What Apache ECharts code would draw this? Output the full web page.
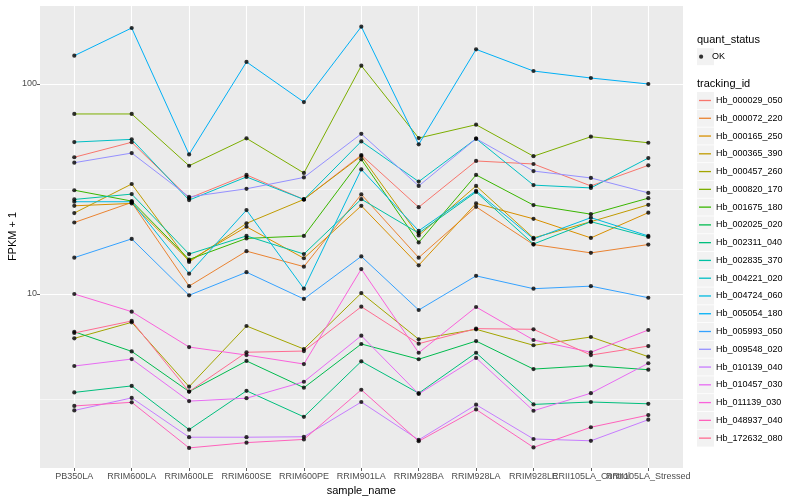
<!DOCTYPE html>
<html><head><meta charset="utf-8">
<script src="https://cdn.jsdelivr.net/npm/echarts/dist/echarts.min.js"></script>
<style>html,body{margin:0;padding:0;background:#fff}#c{width:800px;height:500px}</style>
</head><body><div id="c"></div>
<script>
const categories = ['PB350LA','RRIM600LA','RRIM600LE','RRIM600SE','RRIM600PE','RRIM901LA','RRIM928BA','RRIM928LA','RRIM928LE','RRII105LA_Control','RRII105LA_Stressed'];
const trackingIds = ['Hb_000029_050','Hb_000072_220','Hb_000165_250','Hb_000365_390','Hb_000457_260','Hb_000820_170','Hb_001675_180','Hb_002025_020','Hb_002311_040','Hb_002835_370','Hb_004221_020','Hb_004724_060','Hb_005054_180','Hb_005993_050','Hb_009548_020','Hb_010139_040','Hb_010457_030','Hb_011139_030','Hb_048937_040','Hb_172632_080'];
const colors = ['#F8766D','#EA8331','#D89000','#C09B00','#A3A500','#7CAE00','#39B600','#00BB4E','#00BF7D','#00C1A3','#00BFC4','#00BAE0','#00B0F6','#35A2FF','#9590FF','#C77CFF','#E76BF3','#FA62DB','#FF62BC','#FF6C91'];
const yTickValues = [10, 100];
const yMinorValues = [3.1623, 31.623];

const v_000029_050 = [44.8, 52.8, 28.6, 36.9, 28.2, 45.9, 25.9, 43.0, 41.6, 32.7, 41.0];
const v_000072_220 = [21.9, 27.3, 10.9, 16.0, 13.5, 29.8, 14.9, 26.0, 17.2, 15.7, 17.2];
const v_000165_250 = [26.3, 27.0, 14.4, 20.9, 14.8, 26.3, 13.7, 27.0, 22.8, 18.5, 24.4];
const v_000365_390 = [24.3, 33.4, 14.2, 21.7, 28.2, 45.4, 19.0, 32.7, 18.5, 22.1, 26.6];
const v_000457_260 = [6.15, 7.33, 3.62, 7.04, 5.47, 10.1, 6.09, 6.79, 5.70, 6.24, 5.03];
const v_000820_170 = [72, 72, 40.8, 55.1, 37.7, 122.2, 55.3, 64, 45.3, 56.1, 52.5];
const v_001675_180 = [31.2, 27.7, 14.6, 18.4, 18.9, 43.8, 17.6, 36.9, 26.5, 24.0, 28.6];
const v_002025_020 = [6.61, 5.33, 3.43, 4.80, 3.58, 5.78, 4.89, 5.97, 4.39, 4.56, 4.36];
const v_002311_040 = [3.40, 3.65, 2.26, 3.46, 2.60, 4.78, 3.37, 5.25, 2.98, 3.06, 3.00];
const v_002835_370 = [28.2, 29.9, 15.5, 18.9, 15.5, 28.3, 19.5, 30.6, 17.3, 22.1, 18.7];
const v_004221_020 = [52.9, 54.5, 28.0, 36.1, 28.2, 53.3, 34.3, 54.9, 33.0, 32.0, 44.4];
const v_004724_060 = [27.5, 27.5, 12.5, 25.1, 10.6, 39.2, 20.0, 31.0, 18.3, 23.1, 18.9];
const v_005054_180 = [136.4, 184.8, 46.2, 127.4, 82, 187.5, 51.6, 146.2, 115.3, 106.8, 100];
const v_005993_050 = [14.9, 18.3, 9.86, 12.7, 9.47, 15.1, 8.39, 12.2, 10.6, 10.9, 9.60];
const v_009548_020 = [42.2, 46.9, 29.0, 31.7, 35.9, 57.9, 32.7, 54.9, 38.5, 35.7, 30.3];
const v_010139_040 = [2.79, 3.20, 2.08, 2.08, 2.09, 3.06, 2.02, 2.97, 2.04, 2.00, 2.52];
const v_010457_030 = [4.54, 4.90, 3.09, 3.19, 3.82, 6.33, 3.34, 4.96, 2.78, 3.37, 4.68];
const v_011139_030 = [10.0, 8.24, 5.59, 5.12, 4.64, 13.15, 5.25, 8.67, 6.04, 5.28, 6.74];
const v_048937_040 = [2.93, 3.05, 1.85, 1.96, 2.03, 3.50, 1.99, 2.82, 1.86, 2.32, 2.65];
const v_172632_080 = [6.52, 7.44, 3.43, 5.28, 5.35, 8.70, 5.80, 6.84, 6.79, 5.12, 5.65];

const seriesValues = [v_000029_050, v_000072_220, v_000165_250, v_000365_390, v_000457_260, v_000820_170, v_001675_180, v_002025_020, v_002311_040, v_002835_370, v_004221_020, v_004724_060, v_005054_180, v_005993_050, v_009548_020, v_010139_040, v_010457_030, v_011139_030, v_048937_040, v_172632_080];

const FONT = 'Liberation Sans, Arial, Helvetica, sans-serif';
const Y_MIN = 1.484, Y_MAX = 237.8;
const chart = echarts.init(document.getElementById('c'), null, {renderer: 'canvas'});

const series = trackingIds.map((id, i) => ({
  type: 'line', name: id, data: seriesValues[i], symbol: 'none', showSymbol: false,
  xAxisIndex: 1, yAxisIndex: 1,
  lineStyle: {width: 1, color: colors[i]}, itemStyle: {color: colors[i]},
  emphasis: {disabled: true}, silent: true, z: 3
}));
const points = [];
seriesValues.forEach(vals => vals.forEach((v, j) => points.push([categories[j], v])));
series.push({
  type: 'scatter', name: 'OK', data: points, symbol: 'circle', symbolSize: 4.2,
  xAxisIndex: 1, yAxisIndex: 1,
  itemStyle: {color: '#000'}, silent: true, z: 4
});
series.push({
  type: 'line', name: '_minor', data: [[0, Y_MIN]], symbol: 'none', showSymbol: false,
  lineStyle: {opacity: 0}, xAxisIndex: 0, yAxisIndex: 0, silent: true, z: 1,
  markLine: {silent: true, symbol: 'none', label: {show: false}, z: 1, animation: false,
    lineStyle: {color: '#FFFFFF', width: 0.6, type: 'solid'},
    emphasis: {disabled: true},
    data: yMinorValues.map(v => ({yAxis: v}))}
});

const legendTop = 92;
const step = 17.77;
const graphics = [
  {type: 'text', left: 697, top: 34, style: {text: 'quant_status', font: '11px ' + FONT, fill: '#000'}},
  {type: 'text', left: 697, top: 78.5, style: {text: 'tracking_id', font: '11px ' + FONT, fill: '#000'}},
  {type: 'rect', shape: {x: 697, y: 48.2, width: 17, height: 17}, style: {fill: '#F2F2F2'}, z: -1}
];
trackingIds.forEach((id, i) => {
  graphics.push({type: 'rect', shape: {x: 697, y: legendTop + i * step, width: 17, height: 17}, style: {fill: '#F2F2F2'}, z: -1});
});

const logAxisBase = {type: 'log', logBase: 10, min: Y_MIN, max: Y_MAX};

chart.setOption({
  animation: false,
  backgroundColor: '#FFFFFF',
  textStyle: {fontFamily: FONT},
  grid: [
    {left: 40, right: 117, top: 5, bottom: 32, show: true, backgroundColor: '#EBEBEB', borderWidth: 0, containLabel: false, outerBoundsMode: 'none'},
    {left: 45.6, right: 123, top: 5, bottom: 32, show: false, containLabel: false, outerBoundsMode: 'none'}
  ],
  xAxis: [
    {gridIndex: 0, type: 'value', min: 0, max: 1, show: false},
    {
      gridIndex: 1, type: 'category', data: categories, boundaryGap: true,
      name: 'sample_name', nameLocation: 'middle', nameGap: 17, nameMoveOverlap: false,
      nameTextStyle: {fontSize: 11, color: '#000', fontFamily: FONT},
      axisLine: {show: false},
      axisTick: {show: true, alignWithLabel: true, length: 3, lineStyle: {color: '#333333', width: 0.8}},
      axisLabel: {interval: 0, fontSize: 9, color: '#4D4D4D', margin: 4, hideOverlap: false, fontFamily: FONT},
      splitLine: {show: true, alignWithLabel: true, lineStyle: {color: '#FFFFFF', width: 1.1}}
    }
  ],
  yAxis: [
    Object.assign({}, logAxisBase, {
      gridIndex: 0,
      name: 'FPKM + 1', nameLocation: 'middle', nameGap: 22, nameMoveOverlap: false,
      nameTextStyle: {fontSize: 11, color: '#000', fontFamily: FONT},
      axisLine: {show: false},
      axisTick: {show: true, length: 3, lineStyle: {color: '#333333', width: 0.8}},
      axisLabel: {fontSize: 9, color: '#4D4D4D', margin: 3, showMinLabel: false, showMaxLabel: false, fontFamily: FONT,
        formatter: v => (yTickValues.indexOf(Math.round(v)) >= 0 ? String(Math.round(v)) : '')},
      splitLine: {show: true, lineStyle: {color: '#FFFFFF', width: 1.1}}
    }),
    Object.assign({}, logAxisBase, {gridIndex: 1, show: false, splitLine: {show: false}})
  ],
  legend: [
    {data: ['OK'], orient: 'vertical', left: 699, top: 51.2, itemWidth: 12, itemHeight: 4.2, icon: 'circle',
      selectedMode: false, textStyle: {fontSize: 9, color: '#000', lineHeight: 11, fontFamily: FONT}, padding: 0, itemGap: 0},
    {data: trackingIds, orient: 'vertical', left: 699, top: legendTop + 3, itemWidth: 12, itemHeight: 1.3, icon: 'rect',
      selectedMode: false, textStyle: {fontSize: 9, color: '#000', lineHeight: 11, fontFamily: FONT}, padding: 0, itemGap: step - 11}
  ],
  graphic: graphics,
  series: series
});
</script></body></html>
